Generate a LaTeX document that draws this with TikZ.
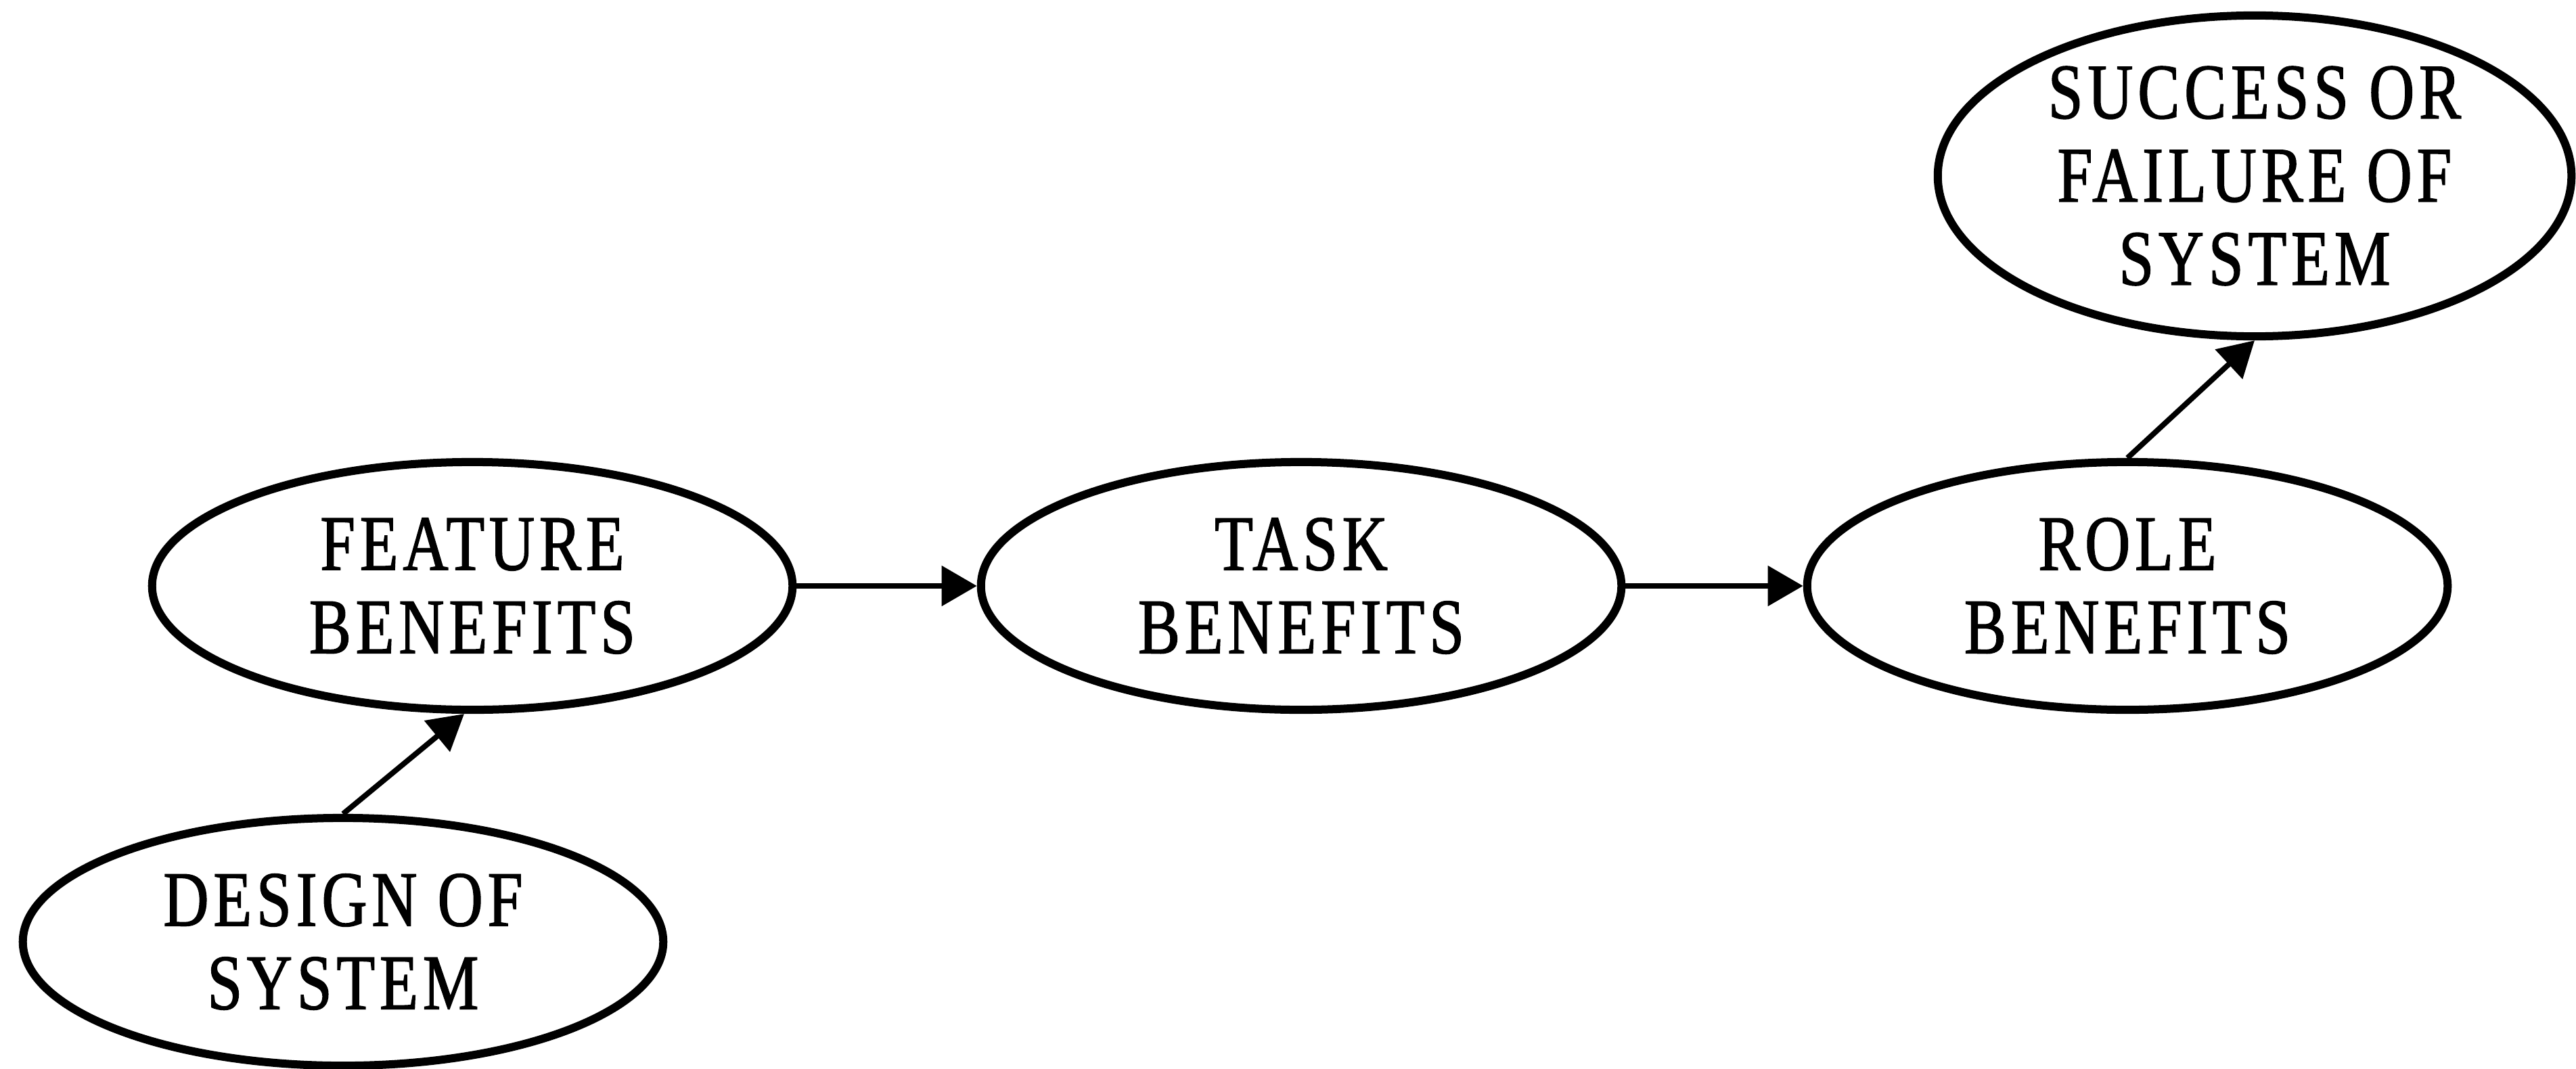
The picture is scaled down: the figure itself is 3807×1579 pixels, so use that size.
\documentclass[tikz,border=0pt]{standalone}
\usepackage{fontspec}
\setmainfont{Liberation Serif}[FakeStretch=0.8, LetterSpace=6, FakeBold=1.3]
\usetikzlibrary{shapes.geometric,arrows.meta}

\tikzset{
  bubble/.style={ellipse, draw, line width=0.12cm, inner sep=0pt,
    minimum width=9.46cm, minimum height=3.66cm, align=center,
    font=\fontsize{33}{35}\selectfont},
  flow/.style={line width=0.08cm, -{Triangle[length=0.52cm, width=0.58cm]}}
}

\begin{document}
\begin{tikzpicture}[x=0.01cm, y=-0.01cm]
  \useasboundingbox (0,0) rectangle (3807,1579);

  % chain of benefit levels
  \node[bubble] (feature) at (698,866)  {FEATURE\\BENEFITS};
  \node[bubble] (task)    at (1923,866) {TASK\\BENEFITS};
  \node[bubble] (role)    at (3144,866) {ROLE\\BENEFITS};

  % origin and outcome
  \node[bubble] (design)  at (507,1392) {DESIGN OF\\SYSTEM};
  \node[bubble, minimum width=9.36cm, minimum height=4.74cm]
        (outcome) at (3332,260) {SUCCESS OR\\FAILURE OF\\SYSTEM};

  % connectors
  \draw[flow] (design.north) -- ([xshift=-0.12cm]feature.south);
  \draw[flow] (feature.east) -- (task.west);
  \draw[flow] (task.east) -- (role.west);
  \draw[flow] (role.north) -- (outcome.south);
\end{tikzpicture}
\end{document}
